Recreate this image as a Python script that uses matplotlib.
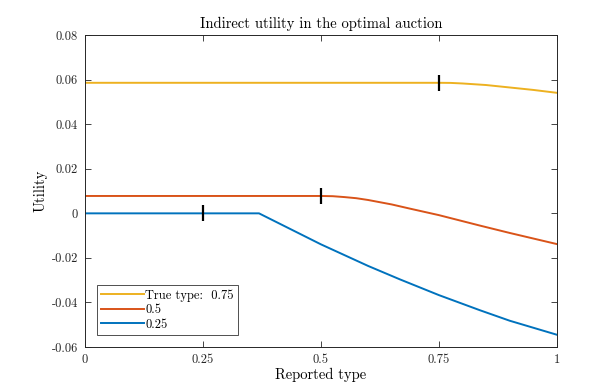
import matplotlib
matplotlib.use('Agg')
from matplotlib import pyplot as plt

plt.rcParams['font.family'] = ['cmr10', 'DejaVu Serif']
plt.rcParams['mathtext.fontset'] = 'cm'
plt.rcParams['axes.unicode_minus'] = False

# reported type vs. utility, one curve per true type
x_075 = [0, 0.75, 0.775, 0.8, 0.85, 0.9, 0.95, 1.0]
u_075 = [0.0586, 0.0586, 0.05855, 0.0583, 0.0576, 0.0565, 0.0554, 0.0541]

x_05 = [0, 0.5, 0.525, 0.55, 0.575, 0.6, 0.65, 0.689, 0.75, 0.837, 0.9, 1.0]
u_05 = [0.0078, 0.0078, 0.0077, 0.0073, 0.0068, 0.0060, 0.0040, 0.0021, -0.0008,
        -0.0055, -0.0088, -0.0138]

x_025 = [0, 0.369, 0.5, 0.6, 0.667, 0.75, 0.837, 0.9, 1.0]
u_025 = [0, 0, -0.0139, -0.0236, -0.0296, -0.0367, -0.0435, -0.0482, -0.0545]

# truthful reports
true_types = [0.25, 0.5, 0.75]
true_utils = [0, 0.0078, 0.0586]

xticks = [0, 0.25, 0.5, 0.75, 1]
xtick_labels = ['0', '0.25', '0.5', '0.75', '1']
yticks = [-0.06, -0.04, -0.02, 0, 0.02, 0.04, 0.06, 0.08]
ytick_labels = ['-0.06', '-0.04', '-0.02', '0', '0.02', '0.04', '0.06', '0.08']

fig = plt.figure(figsize=(6.1, 3.86), dpi=100)
ax = fig.add_axes([0.139, 0.101, 0.774, 0.808])

ax.plot(x_075, u_075, color='#EDB120', lw=1.4, label='True type:  0.75')
ax.plot(x_05, u_05, color='#D95319', lw=1.4, label='0.5')
ax.plot(x_025, u_025, color='#0072BD', lw=1.4, label='0.25')
ax.plot(true_types, true_utils, ls='none', marker='|', ms=11, mew=1.6, color='black')

ax.set_xlim(0, 1)
ax.set_ylim(-0.06, 0.08)
ax.set_xticks(xticks)
ax.set_xticklabels(xtick_labels)
ax.set_yticks(yticks)
ax.set_yticklabels(ytick_labels)
ax.tick_params(direction='in', top=True, right=True, labelsize=9, length=4,
               width=0.6, color='#262626', labelcolor='#262626', pad=5)
for s in ax.spines.values():
    s.set_linewidth(0.7)
    s.set_color('#262626')

ax.set_title('Indirect utility in the optimal auction', fontsize=10.5, pad=5)
ax.set_xlabel('Reported type', fontsize=10.5, labelpad=1)
ax.set_ylabel('Utility', fontsize=10.5, labelpad=3)

leg = ax.legend(loc='lower left', fontsize=9, frameon=True, fancybox=False,
                edgecolor='black', handlelength=3.4, handletextpad=0.15,
                labelspacing=0.2, borderpad=0.3, borderaxespad=1.0)
leg.get_frame().set_linewidth(0.6)

plt.savefig('out.png', dpi=100)
